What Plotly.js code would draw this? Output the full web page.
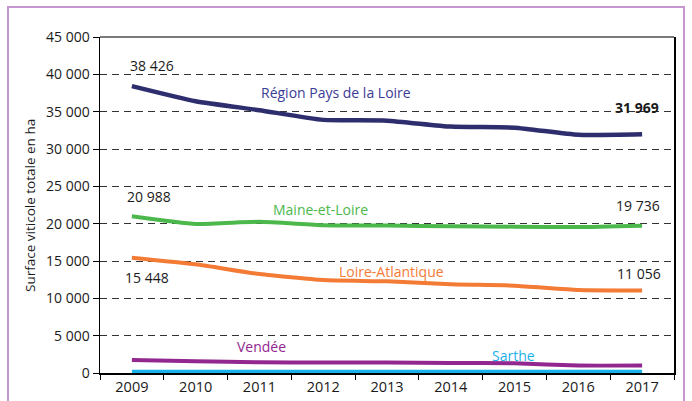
<!DOCTYPE html>
<html>
<head>
<meta charset="utf-8">
<script src="https://cdn.plot.ly/plotly-3.0.1.min.js"></script>
<style>
html,body{margin:0;padding:0;background:#fff;}
#wrap{position:relative;width:692px;height:401px;overflow:hidden;}
#frame{position:absolute;left:7px;top:6px;width:678px;height:420px;border:2px solid #c596d0;box-sizing:border-box;pointer-events:none;z-index:5;}
#chart{position:absolute;left:0;top:0;width:692px;height:401px;}
</style>
</head>
<body>
<div id="wrap"><div id="chart"></div><div id="frame"></div></div>
<script>
const years = ['2009','2010','2011','2012','2013','2014','2015','2016','2017'];
const region = [38426, 36400, 35200, 33900, 33800, 33000, 32850, 31900, 31969];
const maine = [20988, 19950, 20250, 19800, 19750, 19650, 19600, 19550, 19736];
const loireAtl = [15448, 14560, 13250, 12450, 12280, 11880, 11700, 11120, 11056];
const vendee = [1740, 1560, 1430, 1420, 1410, 1350, 1300, 1000, 1000];
const sarthe = [160, 160, 160, 160, 160, 160, 160, 160, 160];
const seriesNames = ['Région Pays de la Loire','Maine-et-Loire','Loire-Atlantique','Vendée','Sarthe'];
const yTickVals = [0,5000,10000,15000,20000,25000,30000,35000,40000,45000];

const FONT = '"Open Sans", "Noto Sans", sans-serif';
const colors = ['#2e2e6e','#4cb84c','#f47b35','#92278f','#1ab0e8'];
const textColors = ['#3b3b96','#4cb84c','#f47b35','#92278f','#1ab0e8'];
const data = [sarthe, vendee, loireAtl, maine, region];
const order = [4,3,2,1,0];
const traces = data.map((d,i)=>({
  x: years, y: d, type:'scatter', mode:'lines',
  name: seriesNames[order[i]],
  line:{color:colors[order[i]], width: order[i]===0?4.5:4, shape:'spline', smoothing:0.5},
  hoverinfo:'skip'
}));

function fmt(v){ return String(v).replace(/\B(?=(\d{3})+(?!\d))/g,' '); }
const first = 0, last = years.length - 1;

const annotations = [
  {x:first, y:region[first], text:fmt(region[first]), xanchor:'left', xshift:-4, yshift:21},
  {x:first, y:maine[first], text:fmt(maine[first]), xanchor:'left', xshift:-7, yshift:20},
  {x:first, y:loireAtl[first], text:fmt(loireAtl[first]), xanchor:'left', xshift:-9, yshift:-20},
  {x:last, y:region[last], text:'<b>'+fmt(region[last])+'</b>', xanchor:'center', xshift:-5, yshift:27},
  {x:last, y:maine[last], text:fmt(maine[last]), xanchor:'center', xshift:-4, yshift:20},
  {x:last, y:loireAtl[last], text:fmt(loireAtl[last]), xanchor:'center', xshift:-3, yshift:17},
].map(a=>Object.assign({xref:'x', yref:'y', showarrow:false, yanchor:'middle', font:{family:FONT, size:14, color:'#1a1a1a'}}, a));

const labelPos = [[3.2,37634],[2.95,21964],[4.07,13661],[2.03,3522],[5.98,2411]];
seriesNames.forEach((n,i)=>{
  annotations.push({xref:'x', yref:'y', x:labelPos[i][0], y:labelPos[i][1], text:n, showarrow:false,
    xanchor:'center', yanchor:'middle', font:{family:FONT, size:14, color:textColors[i]}});
});
annotations.push({xref:'paper', yref:'paper', x:-0.122, y:0.50, text:'Surface viticole totale en ha',
  textangle:-90, showarrow:false, xanchor:'center', yanchor:'middle', font:{family:FONT, size:13.5, color:'#1a1a1a'}});

const layout = {
  width:692, height:401,
  margin:{l:100, r:18, t:37, b:28},
  paper_bgcolor:'#fff', plot_bgcolor:'#fff',
  showlegend:false,
  separators:', ',
  font:{family:FONT, color:'#1a1a1a'},
  xaxis:{type:'category', range:[-0.5,8.5], showgrid:false, showline:true, linecolor:'#000', linewidth:1.5,
    ticks:'outside', tickson:'boundaries', ticklen:5, tickcolor:'#000', tickwidth:1,
    tickfont:{family:FONT, size:14.5, color:'#1a1a1a'}, zeroline:false, fixedrange:true},
  yaxis:{range:[0,45000], tickvals:yTickVals, ticktext:yTickVals.map(fmt), showgrid:true, gridcolor:'#333', griddash:'7px,5px', gridwidth:1,
    showline:true, mirror:true, linecolor:'#000', linewidth:1.5, ticks:'outside', ticklen:6, tickcolor:'#000',
    tickfont:{family:FONT, size:14, color:'#1a1a1a'}, zeroline:false, fixedrange:true},
  shapes:[{type:'line', xref:'paper', yref:'paper', x0:0, x1:1, y0:1, y1:1, line:{color:'#7a7a7a', width:2}}],
  annotations: annotations
};
Plotly.newPlot('chart', traces, layout, {displayModeBar:false, staticPlot:true});
</script>
</body>
</html>
